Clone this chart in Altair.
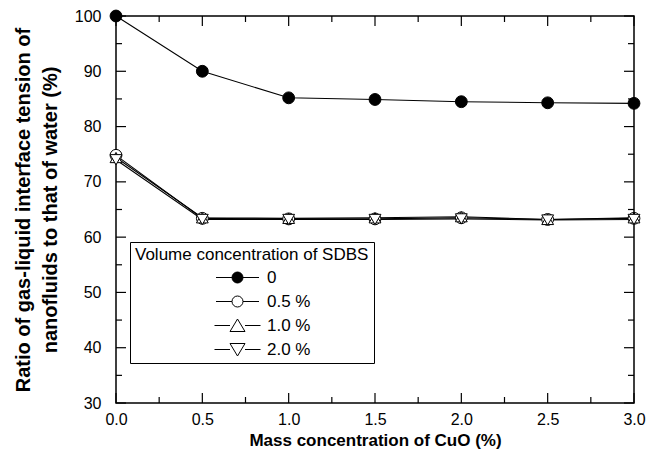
import altair as alt
import pandas as pd

# ---- data ----
mass = [0.0, 0.5, 1.0, 1.5, 2.0, 2.5, 3.0]
sdbs_0 = [100.0, 90.0, 85.2, 84.9, 84.5, 84.3, 84.2]
sdbs_05 = [74.8, 63.4, 63.3, 63.3, 63.5, 63.2, 63.4]
sdbs_10 = [74.4, 63.5, 63.4, 63.5, 63.7, 63.2, 63.5]
sdbs_20 = [74.0, 63.2, 63.2, 63.2, 63.3, 63.1, 63.2]
series_names = ["0", "0.5 %", "1.0 %", "2.0 %"]

x_major = [0.0, 0.5, 1.0, 1.5, 2.0, 2.5, 3.0]
x_minor = [0.25, 0.75, 1.25, 1.75, 2.25, 2.75]
y_major = [30, 40, 50, 60, 70, 80, 90, 100]
y_minor = [35, 45, 55, 65, 75, 85, 95]

# ---- styling ----
W, H = 518, 387
FONT = "Liberation Sans"
plot_shapes = ["circle", "circle", "triangle-up", "triangle-down"]
fills = ["black", "white", "white", "white"]
strokes = ["black", "black", "black", "black"]
legend_shapes = [
    "M-2.15,0H-0.55M0.55,0H2.15M-0.55,0A0.55,0.55,0,1,1,0.55,0A0.55,0.55,0,1,1,-0.55,0Z",
    "M-2.15,0H-0.55M0.55,0H2.15M-0.55,0A0.55,0.55,0,1,1,0.55,0A0.55,0.55,0,1,1,-0.55,0Z",
    "M-2.3,0H-0.75M0.75,0H2.3M0,-0.65L0.75,0.6L-0.75,0.6Z",
    "M-2.3,0H-0.75M0.75,0H2.3M0,0.65L0.75,-0.6L-0.75,-0.6Z",
]

rows = []
for name, vals in zip(series_names, [sdbs_0, sdbs_05, sdbs_10, sdbs_20]):
    for m, v in zip(mass, vals):
        rows.append({"mass": m, "value": v, "series": name})
df = pd.DataFrame(rows)

xs = alt.Scale(domain=[0, 3], nice=False, zero=False)
ys = alt.Scale(domain=[30, 100], nice=False, zero=False)

x_axis = alt.Axis(values=x_major, format=".1f", tickSize=0, domain=False, grid=False,
                  labelFontSize=16, labelPadding=8, labelColor="black", labelFlush=False,
                  title="Mass concentration of CuO (%)", titleFontSize=17,
                  titleFontWeight="bold", titlePadding=5, titleColor="black")
y_axis = alt.Axis(values=y_major, tickSize=0, domain=False, grid=False,
                  labelFontSize=16, labelPadding=15, labelColor="black", labelFlush=False,
                  title=["Ratio of gas-liquid interface tension of",
                         "nanofluids to that of water (%)"],
                  titleFontSize=20, titleFontWeight="bold", titlePadding=14,
                  titleLineHeight=26.7, titleColor="black")

X = lambda f: alt.X(f, scale=xs, axis=x_axis)
Y = lambda f: alt.Y(f, scale=ys, axis=y_axis)

lines = alt.Chart(df).mark_line(color="black", strokeWidth=1.1).encode(
    x=X("mass:Q"), y=Y("value:Q"), detail="series:N",
)

points = alt.Chart(df).mark_point(filled=True, stroke="black", strokeWidth=1,
                                  size=140, opacity=1).encode(
    x=X("mass:Q"), y=Y("value:Q"),
    shape=alt.Shape("series:N", scale=alt.Scale(domain=series_names, range=plot_shapes), legend=None),
    fill=alt.Fill("series:N", scale=alt.Scale(domain=series_names, range=fills), legend=None),
)

leg = alt.Legend(title="Volume concentration of SDBS", orient="none", legendX=14, legendY=226,
                 strokeColor="black", padding=5, titleFontSize=17, titleFontWeight="normal",
                 titleColor="black", titleLimit=400, labelLimit=200,
                 labelFontSize=17, labelColor="black",
                 symbolSize=400, symbolStrokeWidth=1, symbolStrokeColor="black",
                 symbolOffset=92, labelOffset=19, rowPadding=5, titlePadding=3)

legend_layer = alt.Chart(df).transform_filter("false").mark_point(
    filled=True, strokeWidth=1, opacity=1).encode(
    x=X("mass:Q"), y=Y("value:Q"),
    shape=alt.Shape("series:N", scale=alt.Scale(domain=series_names, range=legend_shapes), legend=leg),
    fill=alt.Fill("series:N", scale=alt.Scale(domain=series_names, range=fills), legend=leg),
    stroke=alt.Stroke("series:N", scale=alt.Scale(domain=series_names, range=strokes), legend=leg),
)

# inside ticks on all four sides
xmaj = pd.DataFrame({"t": x_major})
xmin = pd.DataFrame({"t": x_minor})
ymaj = pd.DataFrame({"t": y_major})
ymin = pd.DataFrame({"t": y_minor})

def xticks(d, length):
    bottom = alt.Chart(d).mark_rule(color="black", strokeWidth=1.2).encode(
        x=X("t:Q"), y=alt.value(H), y2=alt.value(H - length))
    top = alt.Chart(d).mark_rule(color="black", strokeWidth=1.2).encode(
        x=X("t:Q"), y=alt.value(0), y2=alt.value(length))
    return [bottom, top]

def yticks(d, length):
    left = alt.Chart(d).mark_rule(color="black", strokeWidth=1.2).encode(
        y=Y("t:Q"), x=alt.value(0), x2=alt.value(length))
    right = alt.Chart(d).mark_rule(color="black", strokeWidth=1.2).encode(
        y=Y("t:Q"), x=alt.value(W), x2=alt.value(W - length))
    return [left, right]

tick_layers = xticks(xmaj, 10) + xticks(xmin, 6) + yticks(ymaj, 10) + yticks(ymin, 6)

chart = alt.layer(lines, *tick_layers, points, legend_layer).resolve_scale(
    shape="independent", fill="independent", stroke="independent"
).properties(
    width=W, height=H,
    autosize=alt.AutoSizeParams(type="none"),
    padding={"left": 108, "top": 8, "right": 20, "bottom": 47},
).configure(font=FONT).configure_view(stroke="black", strokeWidth=1.5)

chart.save("out.html", embed_options={"renderer": "svg", "actions": False})
